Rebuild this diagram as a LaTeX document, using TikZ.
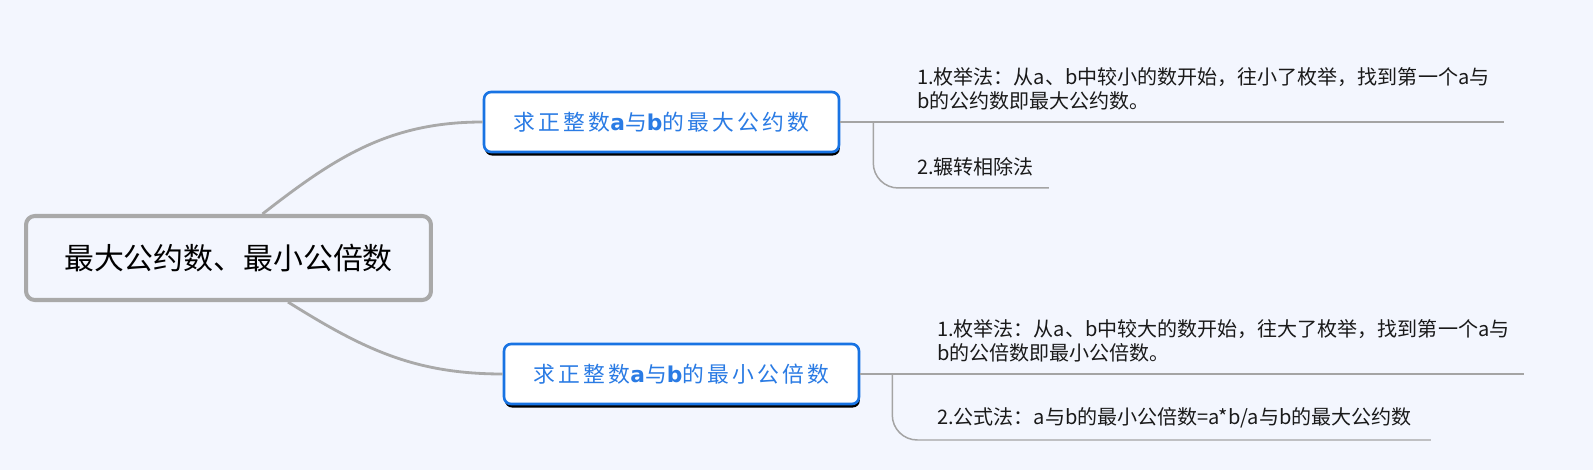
\documentclass[tikz,border=0pt]{standalone}
\usepackage{fontspec}
\setmainfont{Noto Sans CJK SC}
\newfontfamily\spacedFont[LetterSpace=15]{Noto Sans CJK SC}
\newfontfamily\letterFont{DejaVu Sans}
\newcommand{\boldLetter}[1]{{\letterFont\bfseries #1}}
\usetikzlibrary{shadows}
\definecolor{pageBg}{HTML}{F3F6FE}
\definecolor{rootGray}{HTML}{A9A9A9}
\definecolor{branchBlue}{HTML}{1873E3}
\definecolor{branchText}{HTML}{2A7BE4}
\definecolor{twigGray}{HTML}{A4A4A4}
\definecolor{textDark}{HTML}{1A1A1A}

\begin{document}
\begin{tikzpicture}[
    x=0.02cm, y=0.02cm,
    rootbox/.style={rectangle, rounded corners=5pt, draw=rootGray, line width=2.3pt, fill=pageBg,
                minimum width=8.1cm, minimum height=1.68cm, font=\fontsize{17}{20}\selectfont, text=black},
    branchbox/.style={rectangle, rounded corners=4pt, draw=branchBlue, line width=1.5pt, fill=white,
                minimum width=7.1cm, minimum height=1.2cm, font=\fontsize{12.4}{15}\selectfont\spacedFont,
                text=branchText, drop shadow={shadow xshift=0.5pt, shadow yshift=-2pt, opacity=1, fill=black}},
    leaf/.style={anchor=south west, inner xsep=0pt, inner ysep=0.24cm, outer sep=0pt, align=left,
                font=\fontsize{11.4}{13.6}\selectfont, text=textDark},
    limb/.style={line width=1.6pt, color=rootGray},
    twig/.style={line width=0.85pt, color=twigGray, rounded corners=0.5cm}
]

% Page
\fill[pageBg] (0,0) rectangle (1593,470);
\useasboundingbox (0,0) rectangle (1593,470);

% Root
\node[rootbox] (root) at (228.5,212) {最大公约数、最小公倍数};

% Branches
\node[branchbox] (gcd) at (661.5,348) {求正整数\boldLetter{a}与\boldLetter{b}的最大公约数};
\node[branchbox] (lcm) at (681.5,96) {求正整数\boldLetter{a}与\boldLetter{b}的最小公倍数};

% Leaves
\node[leaf, text width=11.74cm] (gcdEnum) at (917,348) {1.枚举法：从a、b中较小的数开始，往小了枚举，找到第一个a与\\b的公约数即最大公约数。};
\node[leaf, text width=2.64cm] (gcdEuclid) at (917,282) {2.辗转相除法};
\node[leaf, text width=11.74cm] (lcmEnum) at (937,96) {1.枚举法：从a、b中较大的数开始，往大了枚举，找到第一个a与\\b的公倍数即最小公倍数。};
\node[leaf, text width=9.88cm] (lcmFormula) at (937,30) {2.公式法：a与b的最小公倍数=a*b/a与b的最大公约数};

% Connectors
\draw[limb] ([xshift=0.68cm]root.north) to[out=38,in=180] (gcd.west);
\draw[limb] ([xshift=1.19cm]root.south) to[out=-32,in=180] (lcm.west);
\draw[twig] (gcd.east) -- (gcdEnum.south east);
\draw[twig] ([xshift=0.66cm]gcd.east) |- (gcdEuclid.south east);
\draw[twig] (lcm.east) -- (lcmEnum.south east);
\draw[twig] ([xshift=0.64cm]lcm.east) |- (lcmFormula.south east);

\end{tikzpicture}
\end{document}
